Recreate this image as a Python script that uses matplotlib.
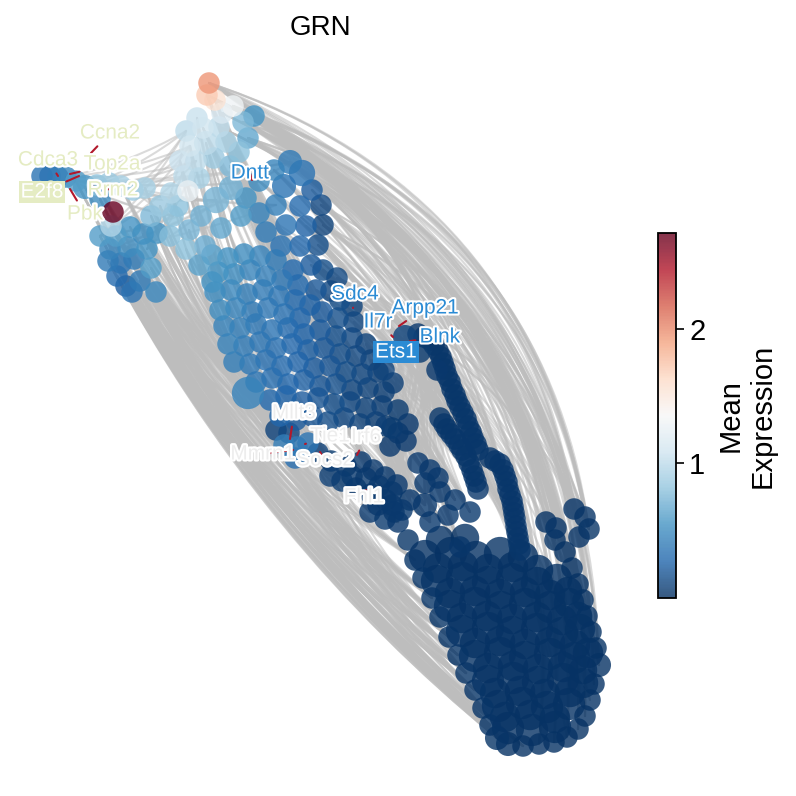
import matplotlib
matplotlib.use("Agg")
import matplotlib.pyplot as plt
import matplotlib.patheffects as pe
from matplotlib.colors import Normalize
from matplotlib.patches import FancyArrowPatch
import numpy as np

plt.rcParams["font.family"] = ["Liberation Sans", "DejaVu Sans"]

# ---- network layout: (x, y, mean expression, degree), y grows downwards ----
top_nodes = [
    (209, 83, 1.95, 1), (207, 95, 1.70, 1), (215, 100, 1.55, 1), (233, 106, 1.30, 1),
    (222, 113, 1.15, 1), (197, 118, 1.05, 1), (186, 131, 1.00, 1), (203, 128, 1.10, 1),
    (219, 127, 1.00, 1), (243, 122, 0.75, 1), (254, 116, 0.55, 1), (248, 138, 0.65, 1),
    (190, 146, 1.10, 1), (206, 143, 1.00, 2), (226, 142, 0.90, 1), (239, 152, 0.80, 1),
    (180, 161, 1.05, 1), (196, 161, 1.00, 1), (214, 158, 0.85, 1), (230, 166, 0.75, 1),
    (184, 176, 1.00, 1), (199, 178, 0.90, 1), (188, 191, 1.25, 1), (171, 193, 0.95, 1),
    (160, 206, 0.85, 1), (178, 206, 0.80, 1), (216, 200, 0.72, 3), (231, 188, 0.70, 2),
    (246, 198, 0.55, 1), (241, 216, 0.60, 1), (201, 216, 0.70, 1), (221, 228, 0.65, 1),
    (189, 230, 0.72, 1), (173, 216, 0.80, 1), (151, 216, 0.75, 1), (186, 249, 0.80, 1),
    (205, 246, 0.68, 1), (170, 236, 0.78, 1), (199, 265, 0.62, 1), (212, 282, 0.55, 1),
]

left_nodes = [
    (42, 176, 0.35, 1), (50, 176, 0.35, 1), (58, 177, 0.40, 1), (66, 177, 0.45, 1),
    (76, 181, 0.60, 1), (85, 187, 0.55, 2), (97, 185, 0.80, 1), (109, 183, 0.85, 1),
    (121, 186, 0.90, 1), (133, 190, 0.85, 1), (145, 188, 0.90, 1), (100, 199, 0.50, 1),
    (113, 212, 2.71, 1), (111, 226, 0.95, 1), (100, 236, 0.60, 1), (116, 236, 0.60, 1),
    (130, 227, 0.55, 1), (143, 234, 0.50, 1), (157, 233, 0.55, 1), (110, 249, 0.45, 1),
    (128, 247, 0.50, 1), (147, 249, 0.55, 1), (108, 261, 0.40, 1), (121, 263, 0.35, 1),
    (134, 259, 0.40, 1), (151, 268, 0.60, 1), (117, 276, 0.30, 1), (126, 286, 0.22, 1),
    (140, 281, 0.40, 1), (156, 292, 0.48, 1), (132, 292, 0.35, 1),
]

column_nodes = [
    (290, 162, 0.40, 2), (302, 173, 0.35, 3), (274, 170, 0.45, 1), (259, 181, 0.50, 1),
    (284, 186, 0.35, 2), (312, 190, 0.22, 1), (321, 205, 0.12, 1), (300, 206, 0.30, 1),
    (276, 205, 0.42, 1), (259, 213, 0.45, 1), (323, 225, 0.10, 1), (306, 226, 0.25, 1),
    (286, 225, 0.35, 1), (266, 232, 0.40, 1), (318, 245, 0.15, 1), (300, 246, 0.28, 1),
    (281, 246, 0.35, 1), (311, 265, 0.22, 1), (293, 270, 0.30, 1), (323, 270, 0.14, 1),
    (337, 278, 0.12, 1), (316, 290, 0.20, 1), (331, 291, 0.12, 1),
]

band_nodes = [
    (212, 255, 0.60, 1), (228, 258, 0.55, 1), (244, 254, 0.50, 1), (260, 256, 0.45, 1),
    (276, 260, 0.40, 1), (218, 272, 0.55, 1), (234, 274, 0.50, 1), (250, 270, 0.45, 1),
    (266, 276, 0.42, 1), (282, 280, 0.38, 1), (298, 285, 0.30, 1), (215, 292, 0.50, 1),
    (231, 290, 0.48, 1), (247, 294, 0.42, 1), (263, 290, 0.40, 1), (279, 296, 0.36, 1),
    (295, 300, 0.30, 1), (310, 305, 0.25, 1), (340, 300, 0.15, 1), (352, 306, 0.10, 1),
    (220, 310, 0.50, 1), (236, 308, 0.45, 1), (252, 312, 0.40, 1), (268, 308, 0.38, 1),
    (284, 314, 0.33, 1), (300, 318, 0.28, 1), (322, 312, 0.22, 1), (338, 318, 0.15, 1),
    (354, 322, 0.12, 1), (224, 326, 0.45, 1), (240, 328, 0.42, 1), (256, 324, 0.38, 1),
    (272, 330, 0.35, 1), (288, 328, 0.30, 1), (304, 334, 0.26, 1), (320, 330, 0.22, 1),
    (336, 336, 0.16, 1), (352, 338, 0.12, 1), (366, 344, 0.10, 1), (228, 344, 0.45, 1),
    (244, 346, 0.40, 1), (260, 342, 0.36, 1), (276, 348, 0.32, 1), (292, 344, 0.28, 1),
    (308, 350, 0.24, 1), (324, 348, 0.20, 1), (340, 354, 0.15, 1), (356, 356, 0.12, 1),
    (371, 360, 0.10, 1), (234, 362, 0.42, 1), (250, 364, 0.38, 1), (266, 360, 0.34, 1),
    (282, 366, 0.30, 1), (298, 362, 0.26, 1), (314, 368, 0.22, 1), (330, 366, 0.18, 1),
    (346, 372, 0.14, 1), (362, 374, 0.12, 1), (378, 372, 0.08, 1), (256, 382, 0.36, 1),
    (272, 378, 0.32, 1), (288, 384, 0.28, 1), (304, 380, 0.24, 1), (320, 386, 0.20, 1),
    (336, 384, 0.16, 1), (352, 390, 0.12, 1), (368, 388, 0.10, 1), (384, 392, 0.08, 1),
    (248, 393, 0.45, 6), (270, 400, 0.30, 1), (286, 396, 0.26, 1), (302, 402, 0.22, 1),
    (318, 398, 0.18, 1), (334, 404, 0.15, 1), (350, 402, 0.12, 1), (366, 408, 0.10, 1),
    (382, 406, 0.08, 1), (398, 410, 0.06, 1), (280, 416, 0.28, 1), (296, 420, 0.22, 1),
    (312, 416, 0.18, 1), (328, 422, 0.14, 1), (344, 418, 0.12, 1), (360, 424, 0.10, 1),
    (376, 422, 0.08, 1), (392, 428, 0.06, 1), (408, 424, 0.05, 1),
]

lower_nodes = [
    (276, 430, 0.10, 1), (289, 433, 0.12, 1), (284, 445, 0.42, 1), (297, 447, 0.40, 1),
    (308, 443, 0.36, 1), (295, 458, 0.32, 1), (318, 453, 0.08, 1), (331, 461, 0.06, 1),
    (346, 466, 0.05, 1), (361, 462, 0.05, 1), (373, 470, 0.05, 1), (385, 477, 0.05, 1),
    (397, 485, 0.05, 1), (342, 481, 0.06, 1), (356, 488, 0.05, 1), (371, 494, 0.05, 1),
    (386, 500, 0.05, 1), (402, 510, 0.05, 1), (370, 512, 0.05, 1), (385, 519, 0.05, 1),
    (330, 476, 0.07, 1), (352, 476, 0.05, 1), (366, 478, 0.05, 1), (379, 486, 0.05, 1),
    (392, 492, 0.05, 1), (378, 505, 0.05, 1), (394, 512, 0.05, 1),
]

strand_nodes = [
    (405, 337, 0.10, 2), (418, 334, 0.05, 1), (430, 340, 0.04, 1), (438, 351, 0.04, 1),
    (443, 363, 0.04, 1), (447, 376, 0.04, 1), (452, 389, 0.04, 1), (457, 401, 0.04, 1),
    (463, 413, 0.04, 1), (468, 426, 0.04, 1), (473, 438, 0.04, 1), (478, 450, 0.04, 1),
    (440, 418, 0.04, 1), (447, 429, 0.04, 1), (455, 439, 0.04, 1), (462, 450, 0.04, 1),
    (469, 463, 0.04, 1), (474, 476, 0.04, 1), (478, 489, 0.04, 1), (490, 458, 0.04, 1),
    (500, 464, 0.04, 1), (505, 476, 0.04, 1), (508, 489, 0.04, 1), (512, 501, 0.04, 1),
    (514, 513, 0.04, 1), (516, 526, 0.04, 1), (518, 538, 0.04, 1), (520, 550, 0.04, 1),
    (395, 352, 0.12, 1), (384, 370, 0.10, 1), (393, 383, 0.08, 1), (420, 352, 0.06, 1),
    (437, 370, 0.05, 1), (386, 426, 0.06, 1), (398, 433, 0.05, 1), (390, 446, 0.05, 1),
    (406, 441, 0.05, 1), (418, 463, 0.05, 1), (430, 470, 0.05, 1), (425, 483, 0.05, 1),
    (438, 478, 0.05, 1),
    (424, 337, 0.04, 1), (434, 345, 0.04, 1), (441, 357, 0.04, 1), (445, 369, 0.04, 1),
    (450, 382, 0.04, 1), (455, 395, 0.04, 1), (460, 407, 0.04, 1), (466, 419, 0.04, 1),
    (471, 432, 0.04, 1), (476, 444, 0.04, 1), (495, 461, 0.04, 1), (503, 470, 0.04, 1),
    (507, 482, 0.04, 1), (510, 495, 0.04, 1), (513, 507, 0.04, 1), (515, 519, 0.04, 1),
    (517, 532, 0.04, 1), (519, 544, 0.04, 1), (444, 424, 0.04, 1), (451, 434, 0.04, 1),
    (459, 445, 0.04, 1), (466, 456, 0.04, 1), (472, 470, 0.04, 1), (476, 482, 0.04, 1),
]

bottom_nodes = [
    (398, 522, 0.04, 1), (408, 540, 0.03, 1), (415, 560, 0.03, 1), (423, 578, 0.03, 1),
    (432, 598, 0.03, 1), (440, 617, 0.03, 1), (449, 637, 0.03, 1), (458, 655, 0.03, 1),
    (466, 673, 0.03, 1), (475, 690, 0.03, 1), (483, 708, 0.03, 1), (490, 725, 0.03, 1),
    (497, 738, 0.03, 2), (508, 744, 0.02, 2), (523, 746, 0.02, 1), (539, 744, 0.02, 1),
    (554, 742, 0.02, 1), (567, 737, 0.02, 1), (578, 729, 0.02, 1), (585, 716, 0.02, 1),
    (590, 700, 0.02, 1), (594, 684, 0.02, 1), (599, 665, 0.02, 2), (596, 648, 0.02, 1),
    (591, 632, 0.02, 1), (587, 616, 0.02, 1), (583, 600, 0.02, 1), (578, 584, 0.02, 1),
    (572, 568, 0.02, 1), (565, 552, 0.02, 1), (555, 540, 0.02, 1), (546, 522, 0.02, 1),
    (574, 509, 0.03, 1), (585, 517, 0.03, 1), (589, 529, 0.03, 1), (579, 537, 0.03, 1),
    (556, 528, 0.03, 1), (392, 505, 0.05, 1), (410, 500, 0.05, 1), (425, 505, 0.05, 2),
    (440, 492, 0.05, 1), (455, 500, 0.05, 1), (470, 512, 0.05, 1), (448, 515, 0.05, 1),
    (430, 522, 0.05, 1), (460, 547, 0.04, 1),
    (425, 556, 0.02, 6), (451, 553, 0.02, 6), (476, 557, 0.02, 6), (500, 553, 0.02, 6),
    (523, 557, 0.02, 5), (437, 581, 0.02, 6), (462, 578, 0.02, 6), (488, 582, 0.02, 6),
    (512, 579, 0.02, 6), (537, 583, 0.02, 6), (557, 579, 0.02, 5), (450, 606, 0.02, 6),
    (475, 603, 0.02, 6), (501, 607, 0.02, 6), (525, 604, 0.02, 6), (550, 607, 0.02, 6),
    (569, 603, 0.02, 5), (462, 631, 0.02, 6), (488, 628, 0.02, 6), (512, 632, 0.02, 6),
    (537, 629, 0.02, 6), (562, 633, 0.02, 6), (580, 629, 0.02, 5), (475, 656, 0.02, 6),
    (500, 653, 0.02, 6), (525, 657, 0.02, 6), (550, 654, 0.02, 6), (574, 658, 0.02, 6),
    (588, 653, 0.02, 5), (488, 681, 0.02, 6), (513, 678, 0.02, 6), (538, 682, 0.02, 6),
    (563, 679, 0.02, 6), (583, 683, 0.02, 5), (498, 706, 0.02, 6), (522, 703, 0.02, 6),
    (547, 707, 0.02, 6), (569, 704, 0.02, 6), (508, 728, 0.02, 6), (532, 730, 0.02, 6),
    (555, 727, 0.02, 6),
    (440, 540, 0.02, 4), (465, 538, 0.02, 4), (438, 568, 0.02, 5), (463, 566, 0.02, 5),
    (488, 569, 0.02, 5), (513, 567, 0.02, 5), (538, 570, 0.02, 5), (450, 593, 0.02, 5),
    (475, 591, 0.02, 5), (500, 594, 0.02, 5), (525, 592, 0.02, 5), (550, 595, 0.02, 5),
    (568, 591, 0.02, 4), (462, 618, 0.02, 5), (487, 616, 0.02, 5), (512, 619, 0.02, 5),
    (537, 617, 0.02, 5), (562, 620, 0.02, 5), (578, 616, 0.02, 4), (475, 643, 0.02, 5),
    (500, 641, 0.02, 5), (525, 644, 0.02, 5), (550, 642, 0.02, 5), (575, 645, 0.02, 5),
    (488, 668, 0.02, 5), (513, 666, 0.02, 5), (538, 669, 0.02, 5), (563, 667, 0.02, 5),
    (583, 670, 0.02, 4), (495, 693, 0.02, 5), (520, 691, 0.02, 5), (545, 694, 0.02, 5),
    (570, 692, 0.02, 5), (505, 717, 0.02, 5), (530, 715, 0.02, 5), (555, 718, 0.02, 5),
]

clusters = {
    "top": top_nodes, "left": left_nodes, "column": column_nodes, "band": band_nodes,
    "lower": lower_nodes, "strand": strand_nodes, "bottom": bottom_nodes,
}

# regulatory links: every source in the list connects to every target in the list
edge_groups = {
    "left_arc": ("left", [4, 5, 11, 14, 19, 22, 26, 27, 29],
                 "bottom", [7, 8, 9, 10, 11, 12, 13, 14]),
    "left_bottom2": ("left", [6, 8, 13, 15, 17, 20, 23, 25, 28, 30],
                     "bottom", [0, 2, 4, 5, 6]),
    "left_band": ("left", [8, 10, 13, 16, 17, 18, 20, 24, 28], "band", [59, 68, 69, 78]),
    "top_lower": ("top", [5, 12, 16, 23, 24, 30, 32, 34, 37], "lower", [0, 2, 7, 13, 18]),
    "right_arc": ("top", [0, 3, 9, 10, 11],
                  "bottom", [15, 16, 17, 18, 19, 21, 22, 24, 27, 32, 33, 34]),
    "tip_right2": ("top", [1, 2, 4, 8, 9], "bottom", [28, 29, 30, 31, 36]),
    "left_top": ("left", [3, 5, 9, 14, 21], "top", [6, 12, 17, 26, 33]),
    "left_column": ("left", [4, 7, 19], "column", [0, 3, 8]),
    "top_inner": ("top", [13, 20, 26, 35, 38], "bottom", [6, 8, 10, 39, 44]),
    "top_bottom_mid": ("top", [1, 2, 4, 7, 8, 14, 15, 19],
                       "bottom", [0, 37, 38, 39, 40, 41, 44, 45]),
    "column_right": ("column", [0, 1, 6, 10, 20, 22], "bottom", [22, 25, 28, 32, 34]),
    "column_strand": ("column", [0, 1, 6, 10, 20, 22], "strand", [4, 8, 19, 23]),
    "column_strand2": ("column", [2, 3, 5, 9, 11, 14, 17, 19, 21],
                       "strand", [5, 10, 15, 21, 26, 27]),
    "tip_strand": ("top", [0, 3, 10], "strand", [3, 7, 11, 20, 25]),
    "band_strand": ("band", [18, 19, 28, 38, 48, 58], "strand", [11, 18, 22]),
    "band_gap": ("band", [28, 38, 48, 58, 67, 77, 86], "bottom", [37, 38, 40, 41, 42, 45]),
    "ets_gap": ("strand", [0, 28, 29, 31], "bottom", [38, 40, 42, 45]),
    "ets_gap2": ("strand", [1, 2, 31, 32, 41], "bottom", [37, 39, 43, 44]),
    "ets_lower": ("strand", [0, 1, 2, 32], "lower", [12, 16, 17, 24]),
    "band_bottom": ("band", [49, 59, 68, 78], "bottom", [6, 7, 9, 11]),
    "ets_bottom": ("strand", [0, 1], "bottom", [17, 20, 23]),
    "left_lower": ("left", [25, 27, 29], "lower", [0, 5, 13]),
}

# highlighted genes: name, label position, gene node position, group
gene_names = ["Ccna2", "Cdca3", "Top2a", "E2f8", "Rrm2", "Pbk", "Dntt", "Sdc4", "Arpp21",
              "Il7r", "Blnk", "Ets1", "Mllt3", "Tie1", "Irf6", "Mmrn1", "Socs2", "Fhl1"]
gene_label_x = [110, 48, 112, 42, 113, 85, 250, 355, 425, 378, 440, 396, 294, 330, 366, 263, 325, 364]
gene_label_y = [133, 160, 164, 192, 190, 214, 173, 294, 308, 322, 337, 352, 413, 436, 437, 454, 460, 497]
gene_node_x = [91, 58, 70, 79, 89, 70, 252, 353, 399, 393, 410, 398, 290, 305, 357, 293, 320, 366]
gene_node_y = [153, 176, 174, 176, 186, 189, 180, 308, 326, 337, 341, 350, 439, 444, 455, 450, 452, 490]
gene_group = ["cycle", "cycle", "cycle", "cycle", "cycle", "cycle", "bcell", "bcell", "bcell",
              "bcell", "bcell", "bcell", "other", "other", "other", "other", "other", "other"]
boxed_genes = ["E2f8", "Ets1"]

# ---- styles ----
GROUP_COLORS = {"cycle": "#e5ecc3", "bcell": "#2b8bd4", "other": "#ededed"}
EDGE_BEND = {
    "left_arc": 0.1, "left_bottom2": 0.1, "left_band": 0.08, "top_lower": 0.1,
    "right_arc": -0.3, "tip_right2": -0.25, "left_top": 0.08, "left_column": 0.05,
    "top_inner": 0.12, "top_bottom_mid": 0.05, "column_right": -0.2,
    "column_strand": -0.15, "column_strand2": -0.1, "tip_strand": -0.2,
    "band_strand": -0.05, "band_gap": -0.05, "ets_gap": 0.05, "ets_gap2": 0.0,
    "ets_lower": 0.05, "band_bottom": 0.1, "ets_bottom": -0.1, "left_lower": 0.1,
}
EDGE_COLOR = "#bdbdbd"
VMIN, VMAX = 0.0, 2.71

fig = plt.figure(figsize=(7.96, 7.96), dpi=100)
ax = fig.add_axes([0, 0, 1, 1])
ax.set_xlim(0, 796)
ax.set_ylim(796, 0)
ax.axis("off")

for name, (src, src_idx, dst, dst_idx) in edge_groups.items():
    for i in src_idx:
        for j in dst_idx:
            xa, ya = clusters[src][i][:2]
            xb, yb = clusters[dst][j][:2]
            ax.add_patch(FancyArrowPatch(
                (xa, ya), (xb, yb), arrowstyle="-",
                connectionstyle=f"arc3,rad={EDGE_BEND[name]}",
                color=EDGE_COLOR, alpha=0.55, lw=1.5,
                shrinkA=0, shrinkB=0, zorder=1,
            ))

nodes = np.array([n for c in clusters.values() for n in c], dtype=float)
order = np.argsort(nodes[:, 2], kind="stable")
nodes = nodes[order]
sizes = 240 + 60 * (nodes[:, 3] - 1)
sc = ax.scatter(nodes[:, 0], nodes[:, 1], s=sizes, c=nodes[:, 2], cmap="RdBu_r",
                norm=Normalize(VMIN, VMAX), alpha=0.8, linewidths=0, zorder=2)

for g, lx, ly, nx, ny, grp in zip(gene_names, gene_label_x, gene_label_y,
                                  gene_node_x, gene_node_y, gene_group):
    col = GROUP_COLORS[grp]
    kw = {}
    if g in boxed_genes:
        kw["bbox"] = dict(boxstyle="square,pad=0.08", fc=col, ec="none")
        txt_color, stroke = "white", col
    else:
        txt_color, stroke = col, "white"
    ax.annotate(
        g, xy=(nx, ny), xytext=(lx, ly), ha="center", va="center",
        fontsize=15, color=txt_color, zorder=6,
        path_effects=[pe.withStroke(linewidth=3, foreground=stroke)],
        arrowprops=dict(arrowstyle="-", color="#b2182b", lw=1.5, shrinkA=1, shrinkB=0),
        **kw,
    )

ax.text(320, 28, "GRN", fontsize=20, ha="center", va="center")

cax = fig.add_axes([658 / 796, (796 - 598) / 796, 18 / 796, 365 / 796])
cbar = fig.colorbar(sc, cax=cax, ticks=[1, 2])
cbar.outline.set_linewidth(1.3)
cbar.ax.tick_params(labelsize=21, length=6, width=1.2)
cbar.set_label("Mean\nExpression", fontsize=21, labelpad=8)

fig.savefig("out.png", dpi=100)
